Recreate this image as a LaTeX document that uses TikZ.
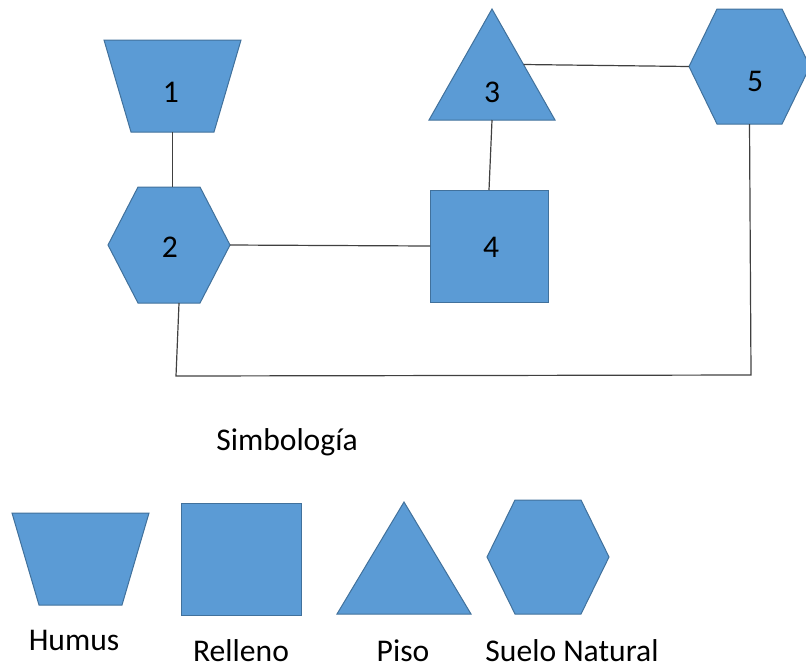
\documentclass[tikz,border=0pt]{standalone}
\usepackage{fontspec}
\setmainfont{Carlito}
\usetikzlibrary{backgrounds,calc}
\definecolor{capablue}{HTML}{5B9BD5}
\definecolor{capaedge}{HTML}{41719C}

\begin{document}
\begin{tikzpicture}[x=0.5pt, y=-0.5pt, font=\fontsize{15.8}{19}\selectfont,
  box/.style={inner sep=0pt, outer sep=0pt},
  capa/.style={fill=capablue, draw=capaedge, line width=0.5pt, line join=miter},
  link/.style={draw=black!75, line width=0.6pt}]
  \useasboundingbox (0,0) rectangle (806,670);

  % Layers
  \node[box, minimum width=68.5pt, minimum height=46pt]   (h1) at (172.5,86)  {};
  \node[box, minimum width=61pt,   minimum height=58pt]   (h2) at (169,245)   {};
  \node[box, minimum width=63pt,   minimum height=55.5pt] (h3) at (492,64.5)  {};
  \node[box, minimum width=59pt,   minimum height=56pt]   (h4) at (489,246)   {};
  \node[box, minimum width=60.5pt, minimum height=57.5pt] (h5) at (749.5,66.5) {};

  \begin{scope}[on background layer]
    \draw[capa] (h1.north west) -- (h1.north east) -- ([xshift=-13.5pt]h1.south east)
      -- ([xshift=13.5pt]h1.south west) -- cycle;
    \draw[capa] (h2.west) -- ([xshift=15pt]h2.north west) -- ([xshift=-15pt]h2.north east)
      -- (h2.east) -- ([xshift=-15pt]h2.south east) -- ([xshift=15pt]h2.south west) -- cycle;
    \draw[capa] (h3.south west) -- (h3.north) -- (h3.south east) -- cycle;
    \draw[capa] (h4.north west) rectangle (h4.south east);
    \draw[capa] (h5.west) -- ([xshift=14pt]h5.north west) -- ([xshift=-14pt]h5.north east)
      -- (h5.east) -- ([xshift=-14pt]h5.south east) -- ([xshift=14pt]h5.south west) -- cycle;
  \end{scope}

  \node[anchor=base] (t1) at (171,102) {1};
  \node[anchor=base] (t2) at (170,257) {2};
  \node[anchor=base] (t3) at (492,102) {3};
  \node[anchor=base] (t4) at (491,257) {4};
  \node[anchor=base] (t5) at (755,91)  {5};

  % Links
  \coordinate (c1) at (751,375);
  \coordinate (c2) at (176,376);
  \draw[link] (h1.south) -- (h1.south |- h2.north);
  \draw[link] (h2.east) -- (h4.west);
  \draw[link] (h4.north) -- (h3.south);
  \draw[link] ($(h3.north)!0.5!(h3.south east)$) -- (h5.west);
  \draw[link] (h5.south) -- (c1) -- (c2) -- ([xshift=5pt]h2.south);

  % Legend
  \node[anchor=base] (ley) at (287,450) {Simbología};
  \node[box, minimum width=68.5pt, minimum height=46pt] (k1) at (80.5,559) {};
  \node[box, minimum width=60pt,   minimum height=56pt] (k2) at (241,559)  {};
  \node[box, minimum width=67pt,   minimum height=56pt] (k3) at (404,558)  {};
  \node[box, minimum width=61pt,   minimum height=57pt] (k4) at (548,557)  {};

  \begin{scope}[on background layer]
    \draw[capa] (k1.north west) -- (k1.north east) -- ([xshift=-13.5pt]k1.south east)
      -- ([xshift=13.5pt]k1.south west) -- cycle;
    \draw[capa] (k2.north west) rectangle (k2.south east);
    \draw[capa] (k3.south west) -- (k3.north) -- (k3.south east) -- cycle;
    \draw[capa] (k4.west) -- ([xshift=14pt]k4.north west) -- ([xshift=-14pt]k4.north east)
      -- (k4.east) -- ([xshift=-14pt]k4.south east) -- ([xshift=14pt]k4.south west) -- cycle;
  \end{scope}

  \node[anchor=base] (e1) at (74,650)  {Humus};
  \node[anchor=base] (e2) at (241,661) {Relleno};
  \node[anchor=base] (e3) at (403,661) {Piso};
  \node[anchor=base] (e4) at (572,661) {Suelo Natural};
\end{tikzpicture}
\end{document}
